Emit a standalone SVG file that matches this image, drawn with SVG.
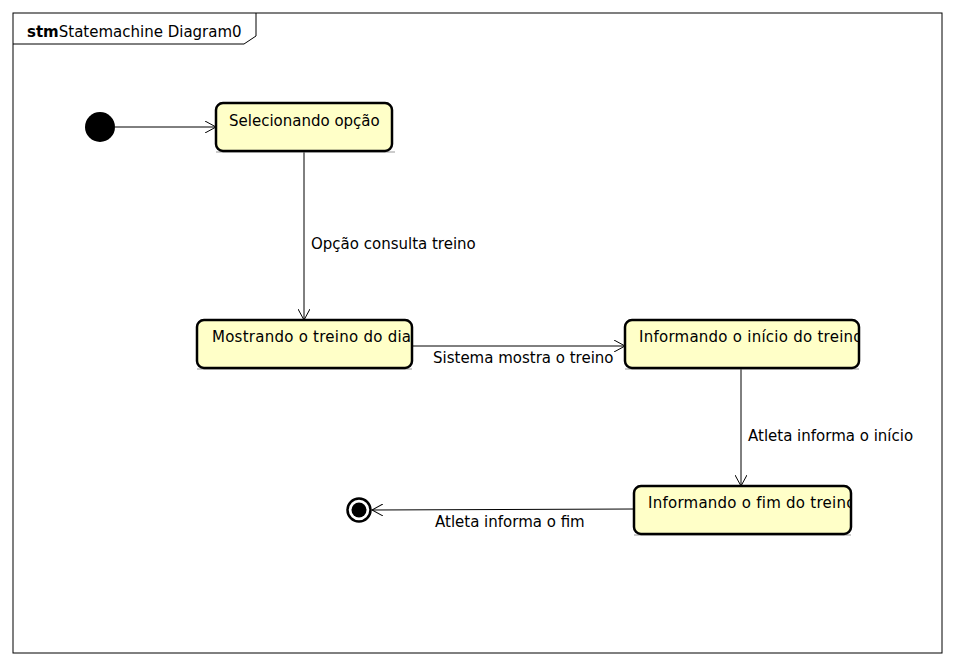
<svg xmlns="http://www.w3.org/2000/svg" width="954" height="666" viewBox="0 0 954 666">
<style>
text{font-family:"DejaVu Sans","Liberation Sans",sans-serif;font-size:15px;fill:#000}
.sn{letter-spacing:0.25px}
.st{fill:#ffffc8;stroke:#000;stroke-width:2.5}
.sh{stroke:#999;stroke-width:1}
.ln{stroke:#000;stroke-width:1;fill:none}
</style>
<defs>
<marker id="arr" viewBox="0 0 12 12" refX="11" refY="6" markerWidth="12" markerHeight="12" markerUnits="userSpaceOnUse" orient="auto">
<path d="M0,0 L11,6 L0,12" fill="none" stroke="#000" stroke-width="1"/>
</marker>
<clipPath id="c2"><rect x="197" y="320" width="214" height="48"/></clipPath>
<clipPath id="c3"><rect x="625" y="320" width="233" height="48"/></clipPath>
<clipPath id="c4"><rect x="634" y="486" width="216" height="48"/></clipPath>
</defs>
<rect width="954" height="666" fill="#fff"/>
<g id="frame">
<rect x="13" y="13" width="929" height="640" fill="none" stroke="#000" stroke-width="1"/>
<path d="M13,44 L244,44 L256,36 L256,13" class="ln"/>
<text x="27" y="37"><tspan font-weight="bold">stm</tspan>Statemachine Diagram0</text>
</g>
<g id="connectors">
<line x1="115" y1="127" x2="216" y2="127" class="ln" marker-end="url(#arr)"/>
<line x1="304" y1="152" x2="304" y2="320" class="ln" marker-end="url(#arr)"/>
<text x="311" y="249">Opção consulta treino</text>
<line x1="412" y1="346" x2="625" y2="346" class="ln" marker-end="url(#arr)"/>
<text x="433" y="363">Sistema mostra o treino</text>
<line x1="741" y1="369" x2="741" y2="486" class="ln" marker-end="url(#arr)"/>
<text x="748" y="441">Atleta informa o início</text>
<line x1="634" y1="509" x2="372" y2="510" class="ln" marker-end="url(#arr)"/>
<text x="435" y="527">Atleta informa o fim</text>
</g>
<g id="initial"><circle cx="100" cy="127" r="15" fill="#000"/></g>
<g id="s1">
<line x1="216" y1="152" x2="395" y2="152" class="sh"/>
<rect x="216" y="103" width="176" height="48" rx="7" class="st"/>
<text x="229" y="126">Selecionando opção</text>
</g>
<g id="s2">
<line x1="197" y1="369" x2="412" y2="369" class="sh"/>
<rect x="197" y="320" width="215" height="48" rx="7" class="st"/>
<text x="212" y="342" class="sn" clip-path="url(#c2)">Mostrando o treino do dia</text>
</g>
<g id="s3">
<line x1="625" y1="369" x2="859" y2="369" class="sh"/>
<rect x="625" y="320" width="234" height="48" rx="7" class="st"/>
<text x="639" y="342" class="sn" clip-path="url(#c3)">Informando o início do treino</text>
</g>
<g id="s4">
<line x1="634" y1="535" x2="851" y2="535" class="sh"/>
<rect x="634" y="486" width="217" height="48" rx="7" class="st"/>
<text x="648" y="508" class="sn" clip-path="url(#c4)">Informando o fim do treino</text>
</g>
<g id="final">
<circle cx="359" cy="510" r="11.5" fill="#fff" stroke="#000" stroke-width="2.5"/>
<circle cx="359" cy="510" r="7.5" fill="#000"/>
</g>
</svg>
